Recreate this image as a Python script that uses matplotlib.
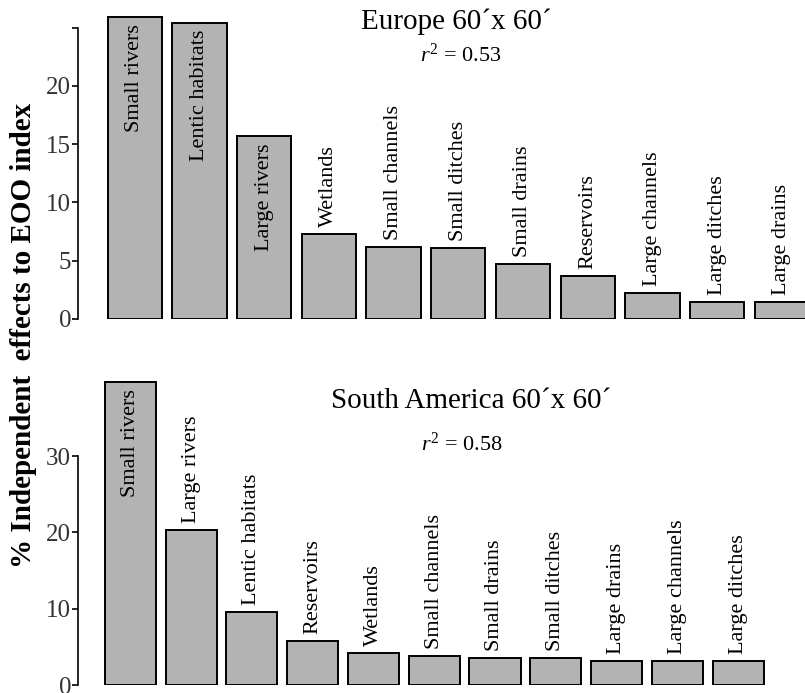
import numpy as np
import matplotlib
matplotlib.use('Agg')
import matplotlib.pyplot as pl
from matplotlib import rcParams
rcParams['font.family'] = 'Liberation Serif'
rcParams['mathtext.fontset'] = 'custom'
rcParams['mathtext.rm'] = 'Liberation Serif'
rcParams['mathtext.it'] = 'Liberation Serif:italic'

# Europe 60'x60'
eu_cats = ['Small rivers', 'Lentic habitats', 'Large rivers', 'Wetlands', 'Small channels',
           'Small ditches', 'Small drains', 'Reservoirs', 'Large channels', 'Large ditches',
           'Large drains']
eu_vals = [25.9, 25.4, 15.7, 7.3, 6.2, 6.1, 4.7, 3.7, 2.2, 1.5, 1.45]
eu_r2 = '0.53'

# South America 60'x60'
sa_cats = ['Small rivers', 'Large rivers', 'Lentic habitats', 'Reservoirs', 'Wetlands',
           'Small channels', 'Small drains', 'Small ditches', 'Large drains', 'Large channels',
           'Large ditches']
sa_vals = [39.7, 20.3, 9.6, 5.8, 4.2, 3.8, 3.6, 3.6, 3.2, 3.2, 3.2]
sa_r2 = '0.58'

W, H = 805, 693
fig = pl.figure(figsize=(W/100, H/100), dpi=100)
barcol = '#b3b3b3'
lblsize = 16
ticksize = 18

def panel(rect, cats, vals, xlim, ylim, ticks, ticklabels, spine_top):
	ax = fig.add_axes(rect)
	x = np.arange(len(vals))
	ax.bar(x, vals, width=0.84, color=barcol, edgecolor='black', linewidth=1.4)
	for i in range(len(vals)):
		if vals[i] > 0.5 * ylim[1]:
			ax.annotate(cats[i], (x[i], vals[i]), xytext=(0, -5), textcoords='offset points',
				rotation=90, ha='center', va='top', fontsize=lblsize)
		else:
			ax.annotate(cats[i], (x[i], vals[i]), xytext=(0, 5), textcoords='offset points',
				rotation=90, ha='center', va='bottom', fontsize=lblsize)
	ax.set_xlim(*xlim)
	ax.set_ylim(*ylim)
	for s in ['top', 'right', 'bottom']:
		ax.spines[s].set_visible(False)
	ax.spines['left'].set_bounds(0, spine_top)
	ax.spines['left'].set_linewidth(1.2)
	ax.set_xticks([])
	ax.set_yticks(ticks)
	ax.set_yticklabels(ticklabels, fontsize=ticksize, color='#333333')
	ax.tick_params(axis='y', length=4, width=1.2, pad=1)
	ax.patch.set_alpha(0)
	return ax

panel([78/W, 1 - 319/H, 1 - 78/W, 319/H], eu_cats, eu_vals,
	(-0.88, 10.36), (0, 319/11.65), [0, 5, 10, 15, 20, 25], ['0', '5', '10', '15', '20', ''], 25)
panel([78/W, 1 - 685/H, 1 - 78/W, 340/H], sa_cats, sa_vals,
	(-0.86, 11.1), (0, 340/7.63), [0, 10, 20, 30], ['0', '10', '20', '30'], 30)

fig.text(456/W, 1 - 22/H, "Europe 60\u00b4x 60\u00b4", ha='center', va='center', fontsize=21)
fig.text(461/W, 1 - 55/H, r'$r^{2}$ = ' + eu_r2, ha='center', va='center', fontsize=16)
fig.text(471/W, 1 - 401/H, "South America 60\u00b4x 60\u00b4", ha='center', va='center', fontsize=21)
fig.text(462/W, 1 - 444/H, r'$r^{2}$ = ' + sa_r2, ha='center', va='center', fontsize=16)
fig.text(24/W, 1 - 335/H, "% Independent  effects to EOO index", rotation=90,
	ha='center', va='center', fontsize=21, fontweight='bold')

pl.savefig('out.png', dpi=100)
